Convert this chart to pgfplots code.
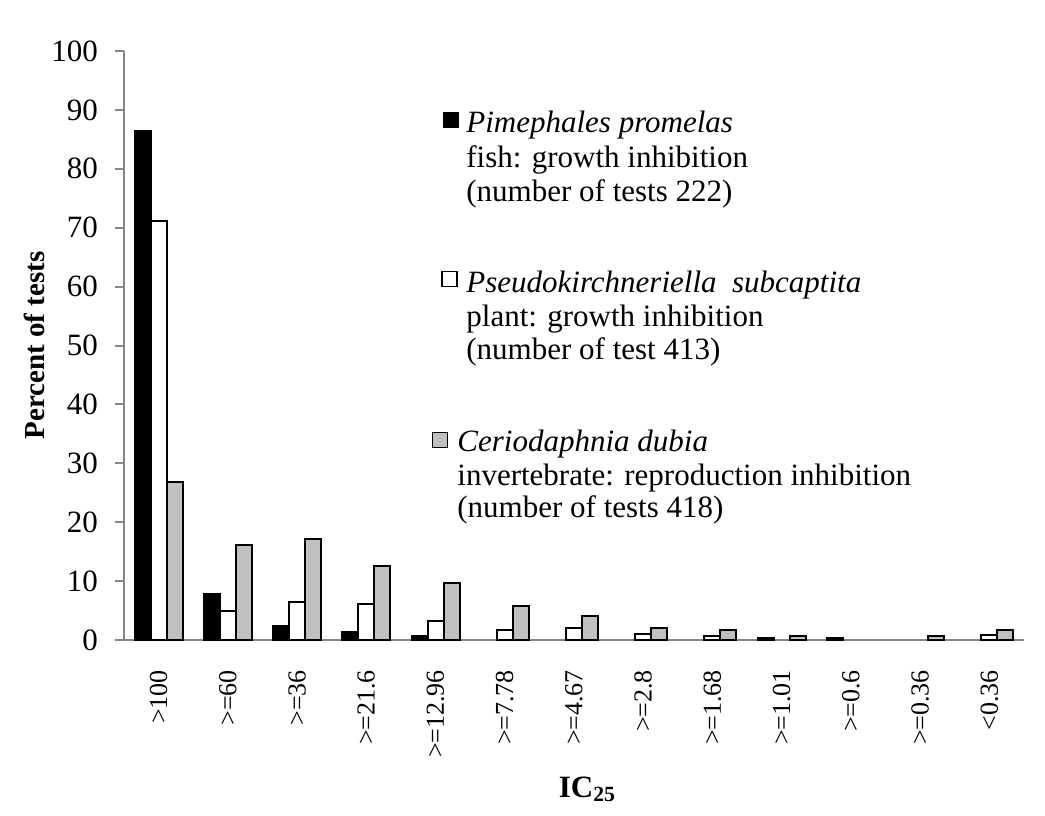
\documentclass[border=0pt]{standalone}
\usepackage{pgfplots}
\pgfplotsset{compat=1.18}
\usepackage{fontspec}
\setmainfont{Liberation Serif}
\definecolor{axisgrey}{HTML}{868686}
\definecolor{bargrey}{HTML}{C0C0C0}
\newcommand{\lf}{\fontsize{15.5}{18}\selectfont}
\newcommand{\xf}{\fontsize{13}{15}\selectfont}
\begin{document}
\begin{tikzpicture}
\useasboundingbox (-62pt,-87.5pt) rectangle (460.5pt,320pt);
\begin{axis}[
  at={(0,0)}, anchor=south west,
  scale only axis, width=450pt, height=294.5pt,
  xmin=-0.5, xmax=12.5, ymin=0, ymax=100,
  ytick={0,10,...,100},
  xtick={0,...,12},
  xticklabels={>100,>=60,>=36,>=21.6,>=12.96,>=7.78,>=4.67,>=2.8,>=1.68,>=1.01,>=0.6,>=0.36,<0.36},
  axis x line*=bottom, axis y line*=left,
  axis line style={draw=axisgrey, line width=1pt},
  xtick style={draw=none},
  ytick style={draw=axisgrey, line width=1pt},
  tick align=outside, major tick length=4.5pt,
  /pgf/number format/assume math mode=true,
  yticklabel style={font=\lf},
  xticklabel style={rotate=90, anchor=east, font=\xf},
  xticklabel shift=7pt,
  yticklabel shift=5pt,
  ybar, bar width=0.231,
  xlabel={\textbf{IC\textsubscript{25}}},
  ylabel={\textbf{Percent of tests}},
  xlabel style={font=\lf, at={(axis description cs:0.515,-0.267)}, anchor=base},
  ylabel style={font=\fontsize{14.5}{17}\selectfont, at={(axis description cs:-0.099,0.5)}, anchor=center},
]
\addplot[draw=black, fill=black, line width=1pt, bar shift=-0.231] coordinates {
(0,86.4) (1,7.8) (2,2.4) (3,1.4) (4,0.75) (9,0.35) (10,0.35)};
\addplot[draw=black, fill=white, line width=1pt, bar shift=0] coordinates {
(0,71.1) (1,5.0) (2,6.5) (3,6.1) (4,3.3) (5,1.7) (6,2.0) (7,1.0) (8,0.6) (12,0.8)};
\addplot[draw=black, fill=bargrey, line width=1pt, bar shift=0.231] coordinates {
(0,26.9) (1,16.2) (2,17.1) (3,12.5) (4,9.75) (5,5.7) (6,4.0) (7,2.0) (8,1.7) (9,0.7) (11,0.75) (12,1.7)};
\end{axis}
% legend
\node[draw=black, fill=black, line width=0.6pt, minimum size=7.5pt, inner sep=0pt] at (163.5pt,260pt) {};
\node[anchor=base west, inner sep=0pt, font=\lf] at (171pt,253.5pt) {\textit{Pimephales promelas}};
\node[anchor=base west, inner sep=0pt, font=\lf] at (171pt,236pt) {fish: growth inhibition};
\node[anchor=base west, inner sep=0pt, font=\lf] at (171pt,219pt) {(number of tests 222)};
\node[draw=black, fill=white, line width=0.6pt, minimum size=7.5pt, inner sep=0pt] at (162.75pt,180.5pt) {};
\node[anchor=base west, inner sep=0pt, font=\lf] at (171pt,173.5pt) {\textit{Pseudokirchneriella\ \ subcaptita}};
\node[anchor=base west, inner sep=0pt, font=\lf] at (171pt,156.5pt) {plant: growth inhibition};
\node[anchor=base west, inner sep=0pt, font=\lf] at (171pt,140pt) {(number of test 413)};
\node[draw=black, fill=bargrey, line width=0.6pt, minimum size=7.5pt, inner sep=0pt] at (158pt,100pt) {};
\node[anchor=base west, inner sep=0pt, font=\lf] at (166.5pt,94pt) {\textit{Ceriodaphnia dubia}};
\node[anchor=base west, inner sep=0pt, font=\lf] at (166.5pt,77.5pt) {invertebrate: reproduction inhibition};
\node[anchor=base west, inner sep=0pt, font=\lf] at (166.5pt,61pt) {(number of tests 418)};
\end{tikzpicture}
\end{document}
